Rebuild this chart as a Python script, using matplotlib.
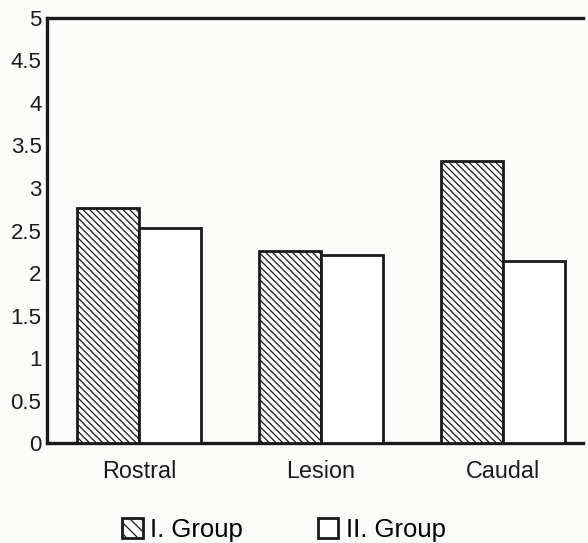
import matplotlib.pyplot as plt
import numpy as np
from matplotlib.patches import Patch

plt.rcParams["font.family"] = ["Liberation Sans", "DejaVu Sans"]
plt.rcParams["hatch.linewidth"] = 0.9

categories = ["Rostral", "Lesion", "Caudal"]
group1 = [2.76, 2.26, 3.32]
group2 = [2.53, 2.21, 2.14]
yticks = [0, 0.5, 1, 1.5, 2, 2.5, 3, 3.5, 4, 4.5, 5]
labels = ["I. Group", "II. Group"]

paper = "#fbfbf9"
ink = "#1a1a1a"
fig = plt.figure(figsize=(5.88, 5.43), dpi=100, facecolor=paper)
ax = fig.add_axes([0.080, 0.184, 0.912, 0.783], facecolor=paper)

x = np.arange(len(categories))
w = 0.34
ax.bar(x - w / 2, group1, w, facecolor="white", edgecolor=ink,
       linewidth=2.0, hatch="\\" * 5, zorder=3)
ax.bar(x + w / 2, group2, w, facecolor="white", edgecolor=ink,
       linewidth=2.0, zorder=3)

ax.set_xlim(-0.505, 2.44)
ax.set_ylim(0, 5)
ax.set_yticks(yticks)
ax.set_yticklabels([f"{v:g}" for v in yticks])
ax.set_xticks(x)
ax.set_xticklabels(categories)
ax.tick_params(axis="y", length=0, pad=4, labelsize=16, colors=ink)
ax.tick_params(axis="x", length=0, pad=12, labelsize=16.8, colors=ink)
for side in ["left", "top", "bottom"]:
    ax.spines[side].set_linewidth(2.4)
    ax.spines[side].set_color(ink)
ax.spines["right"].set_visible(False)

handles = [
    Patch(facecolor="white", edgecolor=ink, hatch="\\\\\\", linewidth=2.0),
    Patch(facecolor="white", edgecolor=ink, linewidth=2.0),
]
fig.legend(handles, labels, loc="center", bbox_to_anchor=(0.483, 0.024),
           ncol=2, frameon=False, fontsize=18.5, handlelength=0.8,
           handleheight=0.8, handletextpad=0.3, columnspacing=2.9,
           borderpad=0)

fig.savefig("out.png", dpi=100, facecolor=paper)
